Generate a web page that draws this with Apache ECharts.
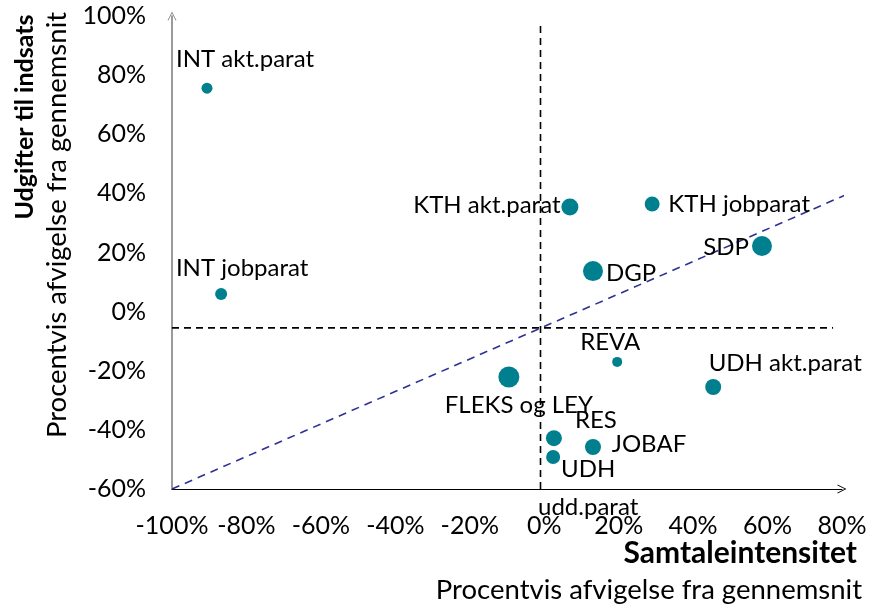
<!DOCTYPE html>
<html>
<head>
<meta charset="utf-8">
<script src="https://cdn.jsdelivr.net/npm/echarts@6/dist/echarts.min.js"></script>
<style>
  html, body { margin: 0; padding: 0; background: #fff; }
  #chart { width: 871px; height: 608px; }
</style>
</head>
<body>
<div id="chart"></div>
<script>
// punkter: samtaleintensitet (x) og udgifter (y), afvigelse i procent
const names = ['INT akt.parat', 'INT jobparat', 'KTH akt.parat', 'KTH jobparat', 'DGP', 'SDP',
  'REVA', 'UDH akt.parat', 'FLEKS og LEY', 'RES', 'JOBAF', 'UDH\nudd.parat'];
const xValues = [-90.6, -86.8, 6.9, 29.0, 13.1, 58.5, 19.6, 45.4, -9.5, 2.6, 13.1, 2.4];
const yValues = [75.6, 6.0, 35.4, 36.4, 13.7, 22.2, -17.0, -25.5, -22.1, -42.8, -45.8, -49.2];
const bubbleValues = [11, 12, 17, 15, 20, 20, 10, 16, 21, 16, 16, 14];

// hjælpelinjer
const meanX = [[-1, -60], [-1, 97.6]];
const meanY = [[-100, -5.5], [77.6, -5.5]];
const trend = [[-100, -60], [85, 41.7]];

const xTicks = { min: -100, max: 80, step: 20 };
const yTicks = { min: -60, max: 100, step: 20 };

// label-placering i pixels i forhold til punktets centrum
const labelOffsets = {
  'INT akt.parat': [38, -29],
  'INT jobparat': [21, -26],
  'KTH akt.parat': [-83, -2],
  'KTH jobparat': [87, 0],
  'DGP': [38, 2],
  'SDP': [-36, 1],
  'REVA': [-7, -20],
  'UDH akt.parat': [72, -24],
  'FLEKS og LEY': [10, 28],
  'RES': [42, -18],
  'JOBAF': [56, -3],
  'UDH\nudd.parat': [35, 31]
};

const FONT = 'Lato';
const chart = echarts.init(document.getElementById('chart'));

const arrow = 'path://M0,10 L5,0 L10,10 L9,10 L5,2 L1,10 Z';

const points = names.map((n, i) => ({
  name: n,
  value: [xValues[i], yValues[i], bubbleValues[i]],
  label: { offset: labelOffsets[n] }
}));

const dashed = (data, color, dash) => ({
  type: 'line',
  data: data,
  symbol: 'none',
  silent: true,
  clip: false,
  z: 1,
  lineStyle: { color: color, width: 1.6, type: dash }
});

chart.setOption({
  animation: false,
  textStyle: { fontFamily: FONT },
  grid: { left: 172, right: 29, top: 16, bottom: 119 },
  xAxis: {
    type: 'value',
    min: xTicks.min, max: xTicks.max, interval: xTicks.step,
    splitLine: { show: false },
    axisTick: { show: false },
    axisLine: {
      onZero: false,
      lineStyle: { color: '#000', width: 1.2 },
      symbol: ['none', arrow], symbolSize: [10, 9]
    },
    axisLabel: { formatter: '{value}%', color: '#000', fontSize: 25, margin: 24, fontFamily: FONT }
  },
  yAxis: {
    type: 'value',
    min: yTicks.min, max: yTicks.max, interval: yTicks.step,
    splitLine: { show: false },
    axisTick: { show: false },
    axisLine: {
      onZero: false,
      lineStyle: { color: '#808080', width: 1.6 },
      symbol: ['none', arrow], symbolSize: [10, 9]
    },
    axisLabel: { formatter: '{value}%', color: '#000', fontSize: 25, margin: 26, fontFamily: FONT }
  },
  graphic: [
    { type: 'text', x: 857, y: 553, style: { text: 'Samtaleintensitet', font: 'bold 30px ' + FONT, fill: '#000', textAlign: 'right', textVerticalAlign: 'middle' } },
    { type: 'text', x: 862, y: 590, style: { text: 'Procentvis afvigelse fra gennemsnit', font: '27.5px ' + FONT, fill: '#000', textAlign: 'right', textVerticalAlign: 'middle' } },
    { type: 'text', x: 25, y: 117, rotation: Math.PI / 2, style: { text: 'Udgifter til indsats', font: 'bold 25px ' + FONT, fill: '#000', textAlign: 'center', textVerticalAlign: 'middle' } },
    { type: 'text', x: 57, y: 225, rotation: Math.PI / 2, style: { text: 'Procentvis afvigelse fra gennemsnit', font: '27.5px ' + FONT, fill: '#000', textAlign: 'center', textVerticalAlign: 'middle' } }
  ],
  series: [
    dashed(meanX, '#000', [7, 5]),
    dashed(meanY, '#000', [7, 5]),
    dashed(trend, '#2e3192', [8, 6]),
    {
      type: 'scatter',
      data: points,
      symbolSize: v => v[2],
      z: 3,
      itemStyle: { color: '#00808f', opacity: 1 },
      label: {
        show: true,
        position: 'inside',
        formatter: p => p.name,
        color: '#000',
        fontSize: 24,
        fontFamily: FONT,
        lineHeight: 38,
        align: 'center'
      }
    }
  ]
});
</script>
</body>
</html>
